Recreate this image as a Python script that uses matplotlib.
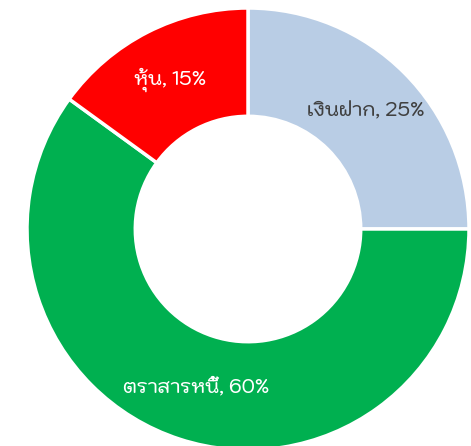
import matplotlib
matplotlib.use("Agg")
import matplotlib.pyplot as plt
import numpy as np

labels = ["เงินฝาก", "ตราสารหนี้", "หุ้น"]
values = [25, 60, 15]
colors = ["#B9CDE5", "#00B050", "#FF0000"]
text_colors = ["#404040", "white", "white"]
families = ["Kodchasan", "Noto Sans Thai", "DejaVu Sans"]

fig = plt.figure(figsize=(4.71, 4.46), dpi=100)
W, H = 471, 446
cx, cy, r = 248, 229, 221
ax = fig.add_axes([(cx - r) / W, (H - cy - r) / H, 2 * r / W, 2 * r / H])
wedges, texts = ax.pie(values, colors=colors, startangle=90, counterclock=False,
                       labels=[f"{l}, {v}%" for l, v in zip(labels, values)],
                       labeldistance=0.755,
                       wedgeprops=dict(width=0.49, edgecolor="white", linewidth=2.5),
                       textprops=dict(fontsize=13.8, ha="center", va="center",
                                      family=families, weight="medium"))
for t, c in zip(texts, text_colors):
    t.set_color(c)
    t.set_ha("center")
ang = np.deg2rad(117.6)
texts[2].set_position((0.76 * np.cos(ang), 0.76 * np.sin(ang)))
ax.set_xlim(-1, 1)
ax.set_ylim(-1, 1)
ax.set_aspect("equal")
ax.axis("off")
fig.savefig("out.png", dpi=100)
